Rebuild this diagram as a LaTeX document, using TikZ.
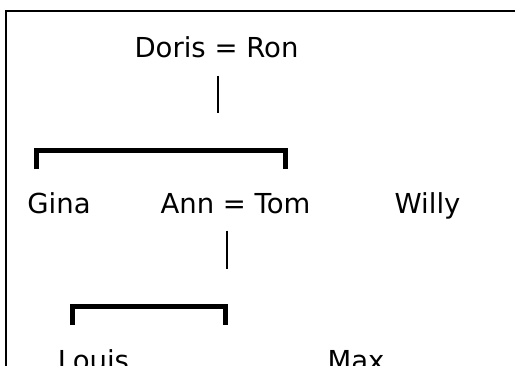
\documentclass[tikz,border=0pt]{standalone}
\usepackage{fontspec}
\setmainfont{DejaVu Sans}
\usepackage{tikz}
\usetikzlibrary{positioning,calc}

\begin{document}
\begin{tikzpicture}[
    x=1pt,y=-1pt,
    person/.style={inner sep=0pt,anchor=base,font=\fontsize{27.5}{33}\selectfont},
    stem/.style={line width=2pt},
    bracket/.style={line width=5pt,line join=miter},
    frame/.style={line width=2pt}]
  \useasboundingbox (0,0) rectangle (515,365);
  \clip (0,0) rectangle (515,365);
  \draw[frame] (5.5,400) |- (540,10.5);
  % generation 1
  \node[person] (doris) at (216.5,57) {Doris = Ron};
  \coordinate (s1) at (217.5,113);
  \draw[stem,shorten <=18pt] (doris.south -| s1) -- (s1);
  \coordinate (b1l) at (36,169);
  \coordinate (b1r) at (285.5,169);
  \draw[bracket] (b1l) -- ++(0,-18.5) -| (b1r);
  % generation 2
  \node[person] (gina) at (59,213) {Gina};
  \node[person] (anntom) at (235.5,213) {Ann = Tom};
  \node[person] (willy) at (427.5,213) {Willy};
  \coordinate (s2) at (227,269);
  \draw[stem,shorten <=17pt] (anntom.south -| s2) -- (s2);
  \coordinate (b2l) at (72.5,325);
  \coordinate (b2r) at (225,325);
  \draw[bracket] (b2l) -- ++(0,-18.5) -| (b2r);
  % generation 3
  \node[person] (louis) at (93.5,370) {Louis};
  \node[person] (max) at (356,370) {Max};
\end{tikzpicture}
\end{document}
